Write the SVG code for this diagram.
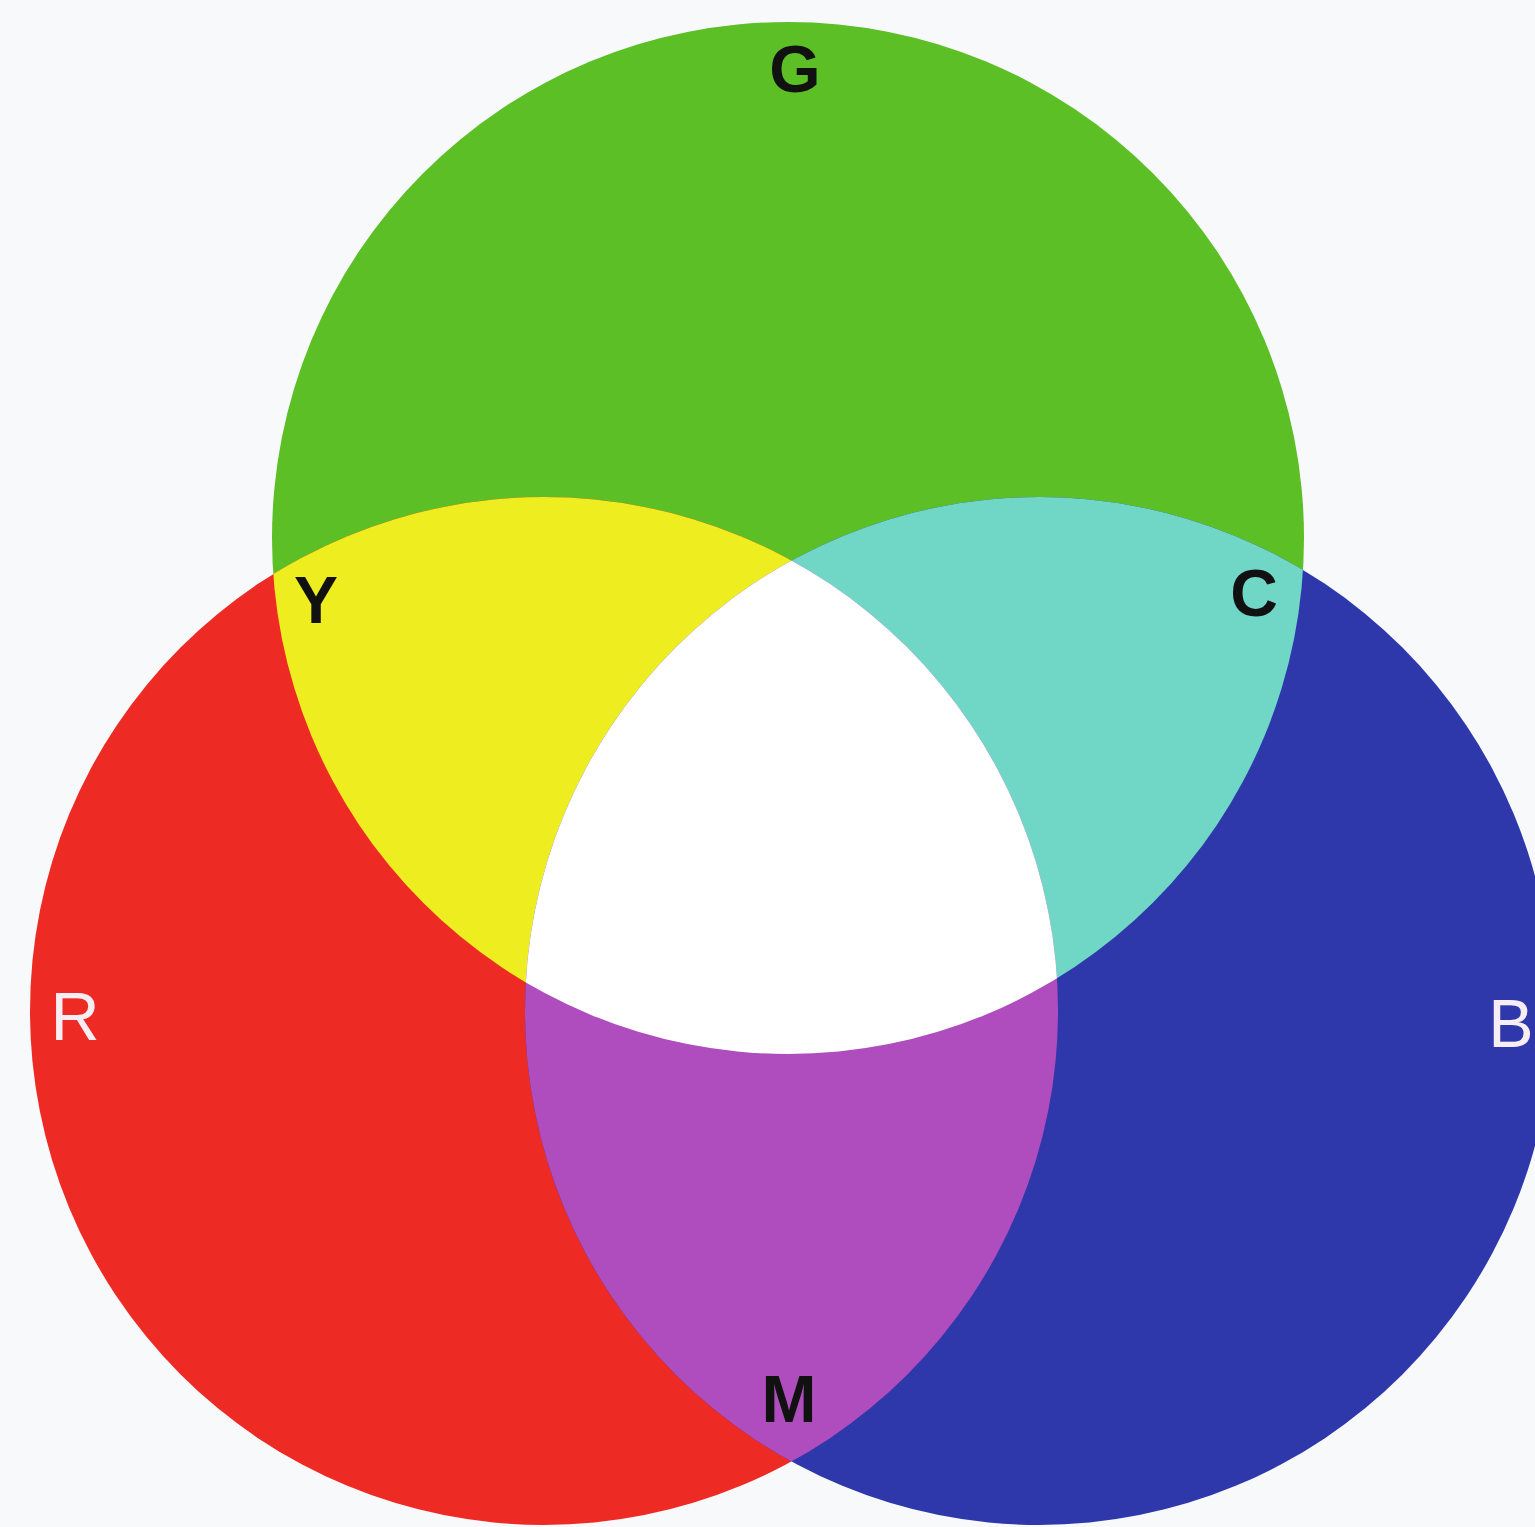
<svg xmlns="http://www.w3.org/2000/svg" width="1535" height="1527" viewBox="0 0 1535 1527">
  <style>
    .dark { font-family: "Liberation Sans", Arial, sans-serif; font-weight: bold; font-size: 66px; fill: #111111; text-anchor: middle; }
    .light { font-family: "Liberation Sans", Arial, sans-serif; font-size: 68px; fill: #f6eef4; text-anchor: middle; }
  </style>
  <defs>
    <circle id="cG" cx="788" cy="538" r="516"/>
    <circle id="cR" cx="544" cy="1011" r="514"/>
    <circle id="cB" cx="1039" cy="1011" r="514"/>
    <clipPath id="clipG"><use href="#cG"/></clipPath>
    <clipPath id="clipR"><use href="#cR"/></clipPath>
    <clipPath id="clipB"><use href="#cB"/></clipPath>
  </defs>
  <rect width="1535" height="1527" fill="#f8f9fb"/>
  <g id="green"><use href="#cG" fill="#5cbf25"/></g>
  <g id="red"><use href="#cR" fill="#ee2a24"/></g>
  <g id="blue"><use href="#cB" fill="#2f38aa"/></g>
  <g id="yellow" clip-path="url(#clipG)"><use href="#cR" fill="#eeed20"/></g>
  <g id="cyan" clip-path="url(#clipG)"><use href="#cB" fill="#70d6c6"/></g>
  <g id="magenta" clip-path="url(#clipB)"><use href="#cR" fill="#b04dbe"/></g>
  <g id="white" clip-path="url(#clipG)"><g clip-path="url(#clipB)"><use href="#cR" fill="#ffffff"/></g></g>
  <g id="labels">
    <text class="dark" x="795" y="92">G</text>
    <text class="dark" x="316" y="623">Y</text>
    <text class="dark" x="1254" y="616">C</text>
    <text class="dark" x="789" y="1422">M</text>
    <text class="light" x="75" y="1040">R</text>
    <text class="light" x="1511" y="1047">B</text>
  </g>
</svg>
